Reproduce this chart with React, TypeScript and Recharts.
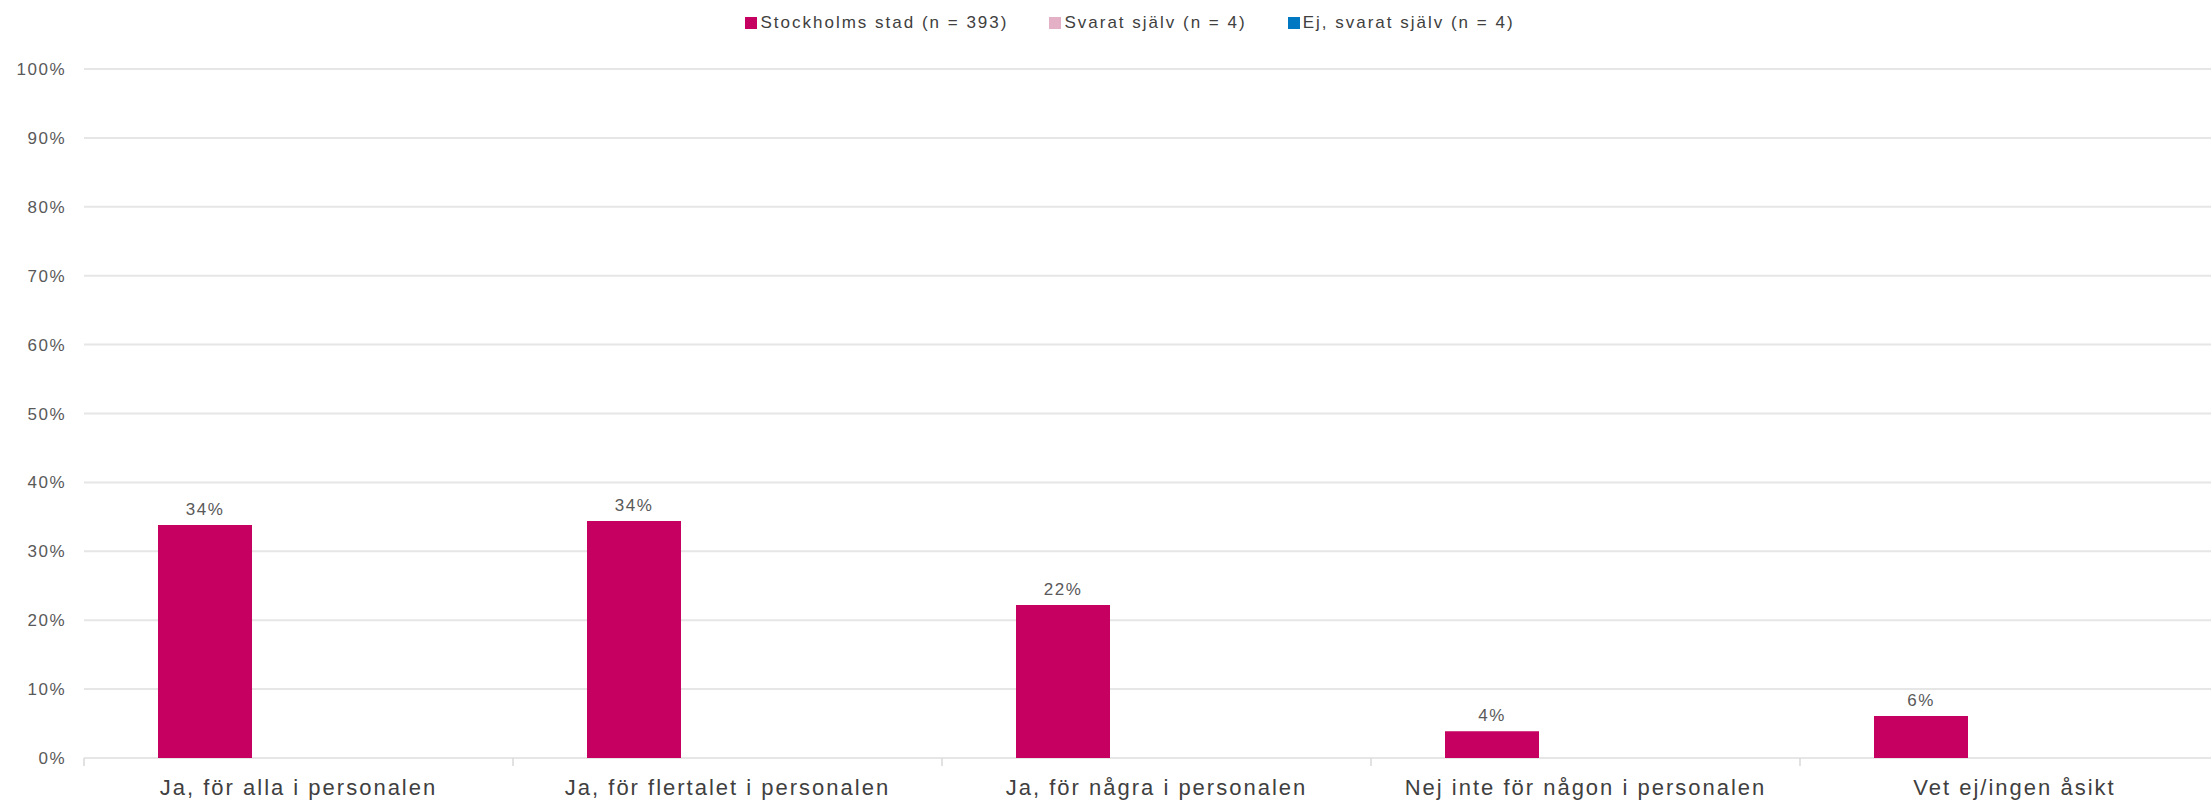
import { BarChart, Bar, XAxis, YAxis, CartesianGrid, Legend, LabelList } from 'recharts'

const FONT = '"Liberation Sans", Arial, sans-serif'

const categories = [
  'Ja, för alla i personalen',
  'Ja, för flertalet i personalen',
  'Ja, för några i personalen',
  'Nej inte för någon i personalen',
  'Vet ej/ingen åsikt',
]
const stockholmsStad = [33.8, 34.4, 22.2, 3.9, 6.1]
const svaratSjalv: (number | null)[] = [null, null, null, null, null]
const ejSvaratSjalv: (number | null)[] = [null, null, null, null, null]
const yTicks = [0, 10, 20, 30, 40, 50, 60, 70, 80, 90, 100]

const series = [
  { key: 'stockholm', name: 'Stockholms stad (n = 393)', color: '#C50061' },
  { key: 'svarat', name: 'Svarat själv (n = 4)', color: '#E4B0C5' },
  { key: 'ejSvarat', name: 'Ej, svarat själv (n = 4)', color: '#0079C2' },
]

const data = categories.map((c, i) => ({
  category: c,
  stockholm: stockholmsStad[i],
  svarat: svaratSjalv[i],
  ejSvarat: ejSvaratSjalv[i],
}))

function LegendContent() {
  return (
    <div
      style={{
        width: 2260,
        height: 69,
        boxSizing: 'border-box',
        paddingTop: 13,
        display: 'flex',
        justifyContent: 'center',
        gap: 41,
        fontFamily: FONT,
        fontSize: 17,
        letterSpacing: 2,
        color: '#404040',
      }}
    >
      {series.map((s) => (
        <div key={s.key} style={{ display: 'flex', alignItems: 'center', height: 20 }}>
          <span style={{ display: 'inline-block', width: 12, height: 12, background: s.color, marginRight: 3 }} />
          <span>{s.name}</span>
        </div>
      ))}
    </div>
  )
}

function XTick(props: any) {
  const { x, y, payload, index } = props
  const half = payload?.offset ?? 214.5
  return (
    <g>
      <line x1={x - half} y1={y} x2={x - half} y2={y + 8} stroke="#d9d9d9" strokeWidth={1.5} />
      {index === categories.length - 1 && (
        <line x1={x + half} y1={y} x2={x + half} y2={y + 8} stroke="#d9d9d9" strokeWidth={1.5} />
      )}
      <text
        x={x}
        y={y + 37}
        textAnchor="middle"
        fill="#404040"
        style={{ fontFamily: FONT, fontSize: 22, letterSpacing: 2 }}
      >
        {payload.value}
      </text>
    </g>
  )
}

function YTick(props: any) {
  const { x, y, payload } = props
  return (
    <text
      x={x}
      y={y}
      dy="0.355em"
      textAnchor="end"
      fill="#595959"
      style={{ fontFamily: FONT, fontSize: 17, letterSpacing: 1.5 }}
    >
      {payload.value}%
    </text>
  )
}

function BarLabel(props: any) {
  const { x, y, width, value } = props
  if (value == null) return null
  return (
    <text
      x={x + width / 2}
      y={y - 10}
      textAnchor="middle"
      fill="#595959"
      style={{ fontFamily: FONT, fontSize: 17, letterSpacing: 1.5 }}
    >
      {Math.round(value)}%
    </text>
  )
}

export default function App() {
  return (
    <div
      style={{
        position: 'fixed',
        left: 0,
        top: 0,
        width: 2211,
        height: 800,
        overflow: 'hidden',
        background: '#fff',
      }}
    >
      <BarChart
        width={2260}
        height={800}
        data={data}
        margin={{ top: 0, right: 31, bottom: 12, left: 0 }}
        barCategoryGap={74}
        barGap={0}
      >
        <CartesianGrid vertical={false} stroke="#e6e6e6" strokeWidth={2} />
        <Legend
          verticalAlign="top"
          align="left"
          wrapperStyle={{ left: 0, top: 0, width: 2260 }}
          content={<LegendContent />}
        />
        <XAxis
          dataKey="category"
          axisLine={false}
          tickLine={false}
          tickSize={0}
          tickMargin={0}
          height={30}
          interval={0}
          tick={<XTick />}
        />
        <YAxis
          type="number"
          domain={[0, 100]}
          ticks={yTicks}
          axisLine={false}
          tickLine={false}
          tickSize={0}
          tickMargin={18}
          width={84}
          interval={0}
          tick={<YTick />}
        />
        {series.map((s) => (
          <Bar key={s.key} dataKey={s.key} name={s.name} fill={s.color} isAnimationActive={false}>
            {s.key === 'stockholm' && <LabelList dataKey={s.key} content={<BarLabel />} />}
          </Bar>
        ))}
      </BarChart>
    </div>
  )
}
